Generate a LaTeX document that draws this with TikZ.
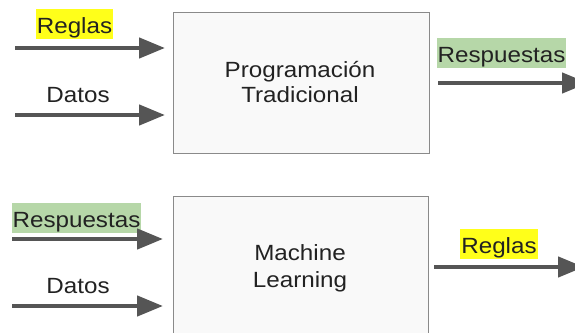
\documentclass[tikz,border=0pt]{standalone}
\usepackage{fontspec}
\setmainfont{Liberation Sans}[FakeStretch=1.1]
\usetikzlibrary{arrows.meta}
\definecolor{arrowgray}{HTML}{555555}
\definecolor{boxedge}{HTML}{8A8A8A}
\definecolor{boxfill}{HTML}{F9F9F9}
\definecolor{hlyellow}{HTML}{FFFF1A}
\definecolor{hlgreen}{HTML}{B6D7A8}
\definecolor{inktext}{HTML}{222222}
\tikzset{
  procbox/.style={draw=boxedge, line width=1.3pt, fill=boxfill, inner sep=0pt},
  lbl/.style={font=\fontsize{22pt}{26pt}\selectfont, text=inktext, anchor=base,
    inner xsep=1pt, inner ysep=3pt, text height=21pt, text depth=3pt},
  boxtxt/.style={font=\fontsize{22pt}{26pt}\selectfont, text=inktext, anchor=base, inner sep=0pt},
  hly/.style={fill=hlyellow},
  hlg/.style={fill=hlgreen},
  flow/.style={draw=arrowgray, line width=4.5pt,
    -{Triangle[length=26pt,width=20pt]}},
}
\begin{document}
\begin{tikzpicture}[x=1pt,y=-1pt]
  \useasboundingbox (0,0) rectangle (575,332);
  \clip (0,0) rectangle (575,332);
  \fill[white] (0,0) rectangle (575,332);

  % processing blocks
  \node[procbox, minimum width=256pt, minimum height=141pt, anchor=north west] (prog) at (173,12) {};
  \node[procbox, minimum width=255pt, minimum height=160pt, anchor=north west] (ml) at (173,196) {};

  \node[boxtxt] (progA) at (300,77) {Programación};
  \node[boxtxt] (progB) at (300,102) {Tradicional};
  \node[boxtxt] (mlA) at (300,260) {Machine};
  \node[boxtxt] (mlB) at (300,287) {Learning};

  % labels
  \node[lbl, hly] (reglasIn) at (74.5,33) {Reglas};
  \node[lbl] (datosInA) at (78,102) {Datos};
  \node[lbl, hlg] (respOut) at (501.5,62) {Respuestas};
  \node[lbl, hlg] (respIn) at (76.5,227) {Respuestas};
  \node[lbl] (datosInB) at (78,293) {Datos};
  \node[lbl, hly] (reglasOut) at (499,253) {Reglas};

  % connector end points
  \coordinate (srcA) at (15,48);
  \coordinate (srcB) at (15,115);
  \coordinate (srcC) at (12,239);
  \coordinate (srcD) at (12,306);
  \coordinate (sinkA) at (588,83);
  \coordinate (sinkB) at (584,267);

  % flows
  \draw[flow, shorten >=8pt] (srcA) -- (srcA -| prog.west);
  \draw[flow, shorten >=8pt] (srcB) -- (srcB -| prog.west);
  \draw[flow, shorten >=10pt] (srcC) -- (srcC -| ml.west);
  \draw[flow, shorten >=10pt] (srcD) -- (srcD -| ml.west);
  \draw[flow, shorten <=8pt] (sinkA -| prog.east) -- (sinkA);
  \draw[flow, shorten <=5pt] (sinkB -| ml.east) -- (sinkB);
\end{tikzpicture}
\end{document}
